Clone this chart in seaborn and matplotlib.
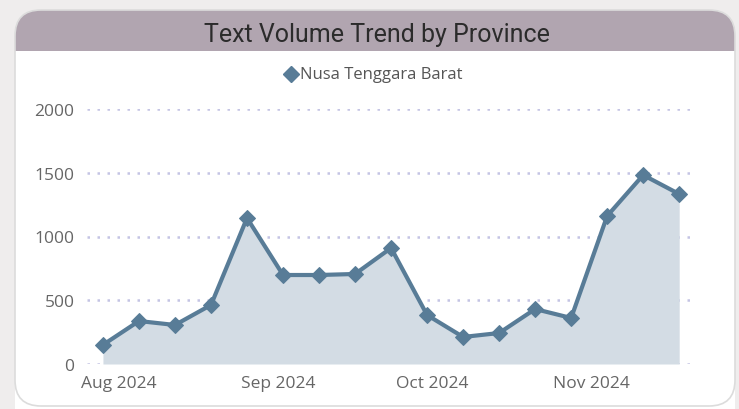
import pandas as pd
import matplotlib.pyplot as plt
import matplotlib.dates as mdates
from matplotlib.patches import FancyBboxPatch, Rectangle
import seaborn as sns

# Weekly text volume (week start dates)
weeks = pd.date_range('2024-07-29', periods=17, freq='7D')
volume = [150, 337, 306, 463, 1145, 698, 698, 706, 910, 384, 212, 243, 431, 361, 1161, 1482, 1333]
province = 'Nusa Tenggara Barat'
y_ticks = [0, 500, 1000, 1500, 2000]
month_ticks = pd.to_datetime(['2024-08-01', '2024-09-01', '2024-10-01', '2024-11-01'])

df = pd.DataFrame({'Week': weeks, 'Volume': volume, 'Province': province})

sns.set_style('white')
plt.rcParams['font.family'] = ['Open Sans', 'DejaVu Sans']

line_color = '#587c97'
fill_color = '#d3dce4'

fig = plt.figure(figsize=(7.39, 4.10), dpi=100)
fig.patch.set_facecolor('#efeded')

# card background in pixel coordinates
bg = fig.add_axes([0, 0, 1, 1])
bg.set_xlim(0, 739)
bg.set_ylim(410, 0)
bg.axis('off')
bg.add_patch(FancyBboxPatch((15, 11), 720, 440, boxstyle='round,pad=0,rounding_size=26',
                            facecolor='#b1a5b0', edgecolor='none', zorder=1))
bg.add_patch(Rectangle((15, 52), 720, 400, facecolor='white', edgecolor='none', zorder=2))
bg.add_patch(FancyBboxPatch((15, 11), 720, 396, boxstyle='round,pad=0,rounding_size=26',
                            facecolor='none', edgecolor='#dcdcdc', linewidth=1.2, zorder=3))
bg.text(377, 35, 'Text Volume Trend by Province', ha='center', va='center',
        fontsize=18, color='#2b2b2b', family=['Roboto', 'DejaVu Sans'], zorder=4)
bg.plot([291], [75], marker='D', color=line_color, markersize=8, zorder=4)
bg.text(300, 75, province, ha='left', va='center', fontsize=12, color='#555555', zorder=4)

ax = fig.add_axes([87 / 739, 45 / 410, (690 - 87) / 739, 255 / 410])
ax.set_facecolor('none')
sns.lineplot(data=df, x='Week', y='Volume', marker='D', color=line_color,
             linewidth=3, markersize=8, markeredgecolor=line_color, ax=ax, clip_on=False, zorder=3)
ax.fill_between(df['Week'], df['Volume'], 0, color=fill_color, linewidth=0, zorder=2)

x0 = mdates.date2num(weeks[0])
ax.set_xlim(x0 - 3.1, x0 + 16 * 7 + 2.1)
ax.set_ylim(0, 2000)
ax.set_yticks(y_ticks)
ax.set_xticks(month_ticks)
ax.xaxis.set_major_formatter(mdates.DateFormatter('%b %Y'))
ax.yaxis.grid(True, linestyle=(0, (1, 3)), color='#c4c4e4', linewidth=1.8)
ax.xaxis.grid(False)
for s in ax.spines.values():
    s.set_visible(False)
ax.tick_params(axis='both', length=0, labelsize=12.5, labelcolor='#666666')
ax.tick_params(axis='y', pad=9)
ax.tick_params(axis='x', pad=8)
ax.set_xlabel('')
ax.set_ylabel('')
if ax.get_legend():
    ax.get_legend().remove()

fig.savefig('out.png', dpi=100)
